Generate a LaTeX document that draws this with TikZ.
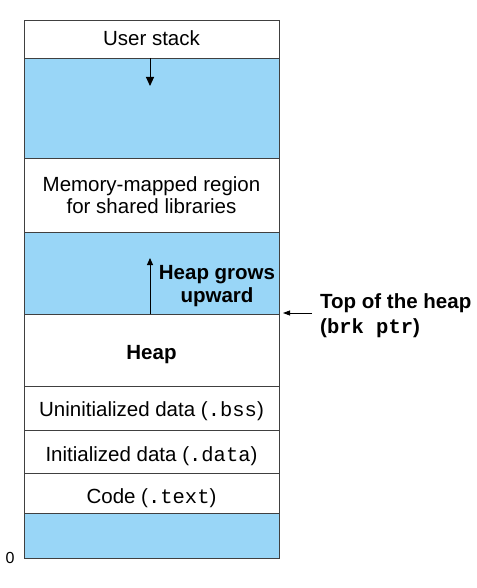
\documentclass[tikz,border=0pt]{standalone}
\usepackage{fontspec}
\setmainfont{Liberation Sans}
\setmonofont{Liberation Mono}
\usetikzlibrary{positioning,arrows.meta}
\definecolor{areablue}{RGB}{153,214,247}
\begin{document}
\begin{tikzpicture}[x=1pt,y=-1pt,
    every node/.style={font=\fontsize{20.5}{22.5}\selectfont},
    area/.style={draw=black!75,line width=0.8pt,minimum width=255pt,inner sep=0pt,outer sep=0pt,align=center},
    gap/.style={area,fill=areablue},
    lowtext/.style={text height=#1,text depth=4.4pt},
    growarrow/.style={-{Triangle[width=8pt,length=9pt]},line width=1pt}]
                \useasboundingbox (0,0) rectangle (476,588);
                \node[area,lowtext=17pt,minimum height=38pt] (stack) at (151.5,39) {User stack};
                \node[gap,minimum height=100pt,below=0pt of stack] (free1) {};
                \node[area,minimum height=74pt,below=0pt of free1] (mmap) {Memory-mapped region\\for shared libraries};
                \node[gap,minimum height=82pt,below=0pt of mmap] (free2) {};
                \node[area,lowtext=24pt,minimum height=72pt,below=0pt of free2] (heap) {\bfseries Heap};
                \node[area,lowtext=21pt,minimum height=44pt,below=0pt of heap] (bss) {Uninitialized data (\texttt{.bss})};
                \node[area,lowtext=25pt,minimum height=43pt,below=0pt of bss] (data) {Initialized data (\texttt{.data})};
                \node[area,lowtext=25pt,minimum height=40pt,below=0pt of data] (text) {Code (\texttt{.text})};
                \node[gap,minimum height=45pt,below=0pt of text] (free3) {};
                \node[anchor=base,font=\fontsize{16}{18}\selectfont] (zero) at (10,563) {0};
                \coordinate (stacktip) at (150,86);
                \coordinate (heaptip) at (150,258);
                \coordinate (brktip) at (283,313);
                \node[align=center,font=\fontsize{20.5}{22.5}\selectfont\bfseries] (grows) at (217,286) {Heap grows\\upward};
                \node[align=left,anchor=west,inner sep=0pt,font=\fontsize{20.5}{25}\selectfont\bfseries] (brk) at (320,316) {Top of the heap\\(\texttt{brk ptr})};
                \coordinate (brkfrom) at ([xshift=-8pt]brk.west);
                \draw[growarrow] (free1.north -| stacktip) -- (stacktip);
                \draw[growarrow,-{Triangle[width=6pt,length=7pt]}] (heap.north -| heaptip) -- (heaptip);
                \draw[-{Triangle[width=5pt,length=7pt]},line width=0.8pt] (brkfrom |- brktip) -- (brktip);
            \end{tikzpicture}
\end{document}
